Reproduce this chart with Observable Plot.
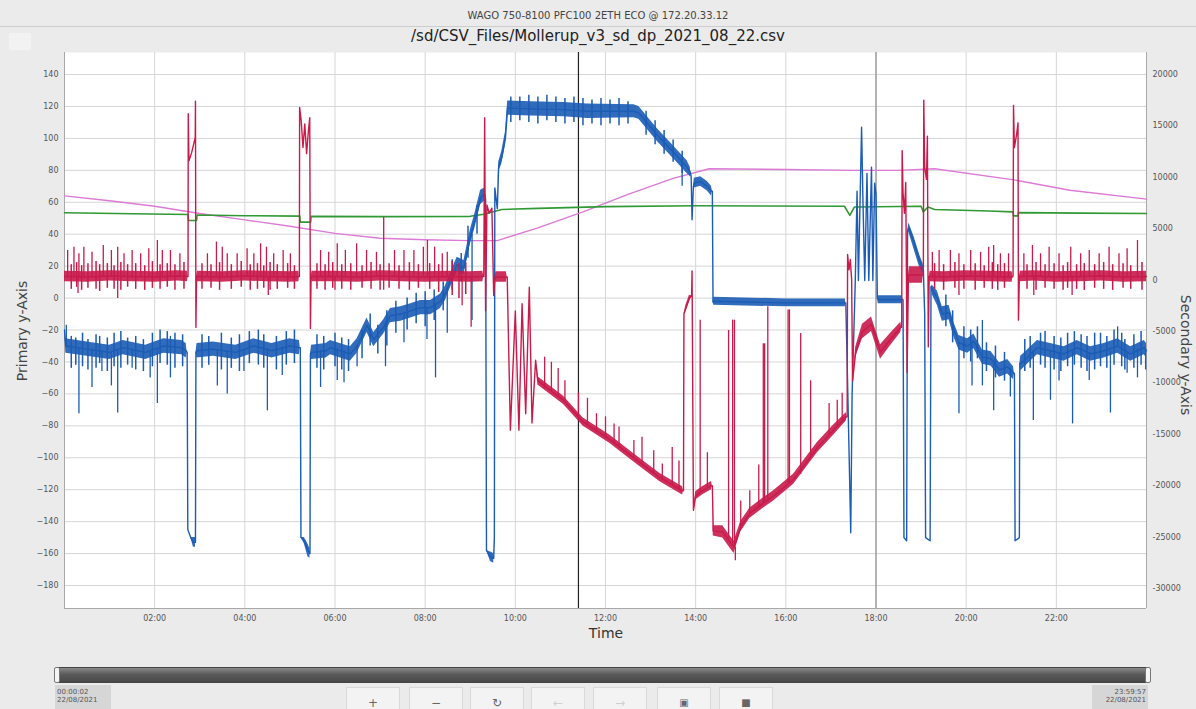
<!DOCTYPE html>
<html><head><meta charset="utf-8">
<script src="https://cdn.jsdelivr.net/npm/d3@7"></script>
<script src="https://cdn.jsdelivr.net/npm/@observablehq/plot@0.6"></script>
<style>
html,body{margin:0;padding:0;}
body{width:1196px;height:709px;overflow:hidden;background:#ebebeb;position:relative;font-family:"DejaVu Sans",sans-serif;}
.abs{position:absolute;white-space:nowrap;}
#chart{position:absolute;left:0;top:0;}
.btn{position:absolute;top:687px;width:54px;height:24px;background:#f3f3f3;border:1px solid #d9d9d9;box-sizing:border-box;text-align:center;font-size:12px;line-height:30px;color:#666;}
.dt{position:absolute;top:685px;height:24px;background:#d6d6d6;font-size:7px;line-height:8px;color:#555;padding:3px 2px;box-sizing:border-box;}
</style></head><body>
<div id="chart"></div>
<div class="abs" style="top:10px;left:0;width:1196px;text-align:center;font-size:10px;color:#444;">WAGO 750-8100 PFC100 2ETH ECO @ 172.20.33.12</div>
<div class="abs" style="top:26px;left:0;width:1196px;height:1px;background:#cdcdcd"></div>
<div class="abs" style="top:27px;left:0;width:1196px;text-align:center;font-size:15px;color:#222;">/sd/CSV_Files/Mollerup_v3_sd_dp_2021_08_22.csv</div>
<div class="abs" style="left:9px;top:33px;width:22px;height:17px;background:#f2f2f2;"></div>
<div class="abs" style="left:22px;top:331px;transform:translate(-50%,-50%) rotate(-90deg);font-size:14px;color:#444;">Primary y-Axis</div>
<div class="abs" style="left:1186px;top:355px;transform:translate(-50%,-50%) rotate(90deg);font-size:14px;color:#444;">Secondary y-Axis</div>
<div class="abs" style="left:606px;top:633px;transform:translate(-50%,-50%);font-size:14px;color:#333;">Time</div>
<div class="abs" style="left:56px;top:667px;width:1092px;height:16px;background:linear-gradient(#8a8a8a,#5a5a5a 45%,#484848);border:1px solid #444;box-sizing:border-box;border-radius:2px;"></div>
<div class="abs" style="left:54px;top:667px;width:6px;height:16px;background:#f4f4f4;border:1px solid #777;box-sizing:border-box;border-radius:2px;"></div>
<div class="abs" style="left:1145px;top:667px;width:6px;height:16px;background:#f4f4f4;border:1px solid #777;box-sizing:border-box;border-radius:2px;"></div>
<div class="dt" style="left:55px;width:56px;">00:00:02<br>22/08/2021</div>
<div class="dt" style="left:1092px;width:56px;text-align:right;">23:59:57<br>22/08/2021</div>
<div class="btn" style="left:346px;">+</div>
<div class="btn" style="left:409px;">&minus;</div>
<div class="btn" style="left:470px;">&#8635;</div>
<div class="btn" style="left:531px;color:#d0d0d0;">&larr;</div>
<div class="btn" style="left:593px;color:#d0d0d0;">&rarr;</div>
<div class="btn" style="left:657px;font-size:10px;">&#9635;</div>
<div class="btn" style="left:719px;font-size:10px;">&#9632;</div>
<script>
// ---- data (time in hours) ----
const timeTicks = [2,4,6,8,10,12,14,16,18,20,22];
const primaryTicks = [-180,-160,-140,-120,-100,-80,-60,-40,-20,0,20,40,60,80,100,120,140];
const secondaryTicks = [-30000,-25000,-20000,-15000,-10000,-5000,0,5000,10000,15000,20000];
const cursorTimes = [11.4];
const markerTimes = [18.0];

// pink (primary axis) [t, value]
const pinkSeries = [[0,64],[1,61],[2,57.5],[3,53],[4,49],[5,45],[6,40.5],[7,37.5],[8,36.5],[9,36],[9.6,36],[10.5,44],[11.5,54],[12.5,65],[13.5,75],[14.3,81],[16,80.5],[17.5,80],[18.5,80],[19.3,81],[21.06,74],[22.3,67.5],[24,62]];

// green (primary axis) [t, value]
const greenSeries = [[0,53.4],[1.5,52.8],[2.74,52.3],[2.75,48.6],[2.93,48.6],[2.94,52],[4,51.6],[5.22,51.3],[5.23,47.6],[5.46,47.6],[5.47,51.2],[7,51],[9.0,51.2],[9.3,52.5],[9.7,55.5],[10.5,56.2],[12,57.3],[14,57.8],[17.3,57.5],[17.42,51.8],[17.52,57],[19.0,57.5],[19.05,54],[19.15,57],[19.3,55.5],[20.5,54.5],[21.04,54],[21.05,51.5],[21.15,51.5],[21.16,53.5],[22.5,53.2],[24,53]];

// red (secondary axis) [t, value, noise half-width]
const redSeries = [[0,350,500],[0.5,300,500],[1.0,400,500],[1.5,350,500],[2.0,300,500],[2.5,400,500],[2.73,350,500],
[2.74,350,0],[2.745,16200,0],[2.76,11600,0],[2.82,12400,0],[2.88,13500,0],[2.9,13900,0],[2.905,17400,0],[2.915,-4600,0],[2.93,350,0],[2.95,350,500],
[3.5,300,500],[4.0,400,500],[4.5,350,500],[5.0,300,500],[5.2,350,500],
[5.21,350,0],[5.215,16800,0],[5.25,15500,0],[5.29,12900,0],[5.33,15200,0],[5.37,12300,0],[5.41,14500,0],[5.44,15800,0],[5.455,-4700,0],[5.47,350,0],[5.49,350,500],
[6.0,350,500],[6.5,300,500],[7.0,400,500],[7.5,350,500],[8.0,300,500],[8.5,350,500],[9.0,300,500],[9.28,350,500],
[9.3,350,0],[9.32,15800,0],[9.34,-3000,0],[9.37,7300,0],[9.42,6500,0],[9.48,7000,0],[9.52,-1500,0],[9.55,300,0],[9.57,300,500],[9.8,300,500],
[9.82,300,0],[9.89,-14600,0],[10.0,-3000,0],[10.08,-14600,0],[10.15,-2300,0],[10.23,-13000,0],[10.31,-700,0],[10.37,-13900,0],[10.45,-7800,0],[10.5,-9800,400],
[11.07,-11700,400],[11.5,-13800,400],[12.1,-15500,400],[12.6,-17200,400],[13.2,-19200,400],[13.71,-20500,400],
[13.73,-20500,0],[13.74,-3300,0],[13.78,-2800,300],[13.86,-1800,300],[13.91,-1500,0],[13.92,900,0],[13.95,-22400,0],[14.0,-21000,400],[14.15,-20500,400],[14.35,-20000,400],
[14.37,-20000,0],[14.39,-24400,500],[14.6,-24500,600],[14.85,-26000,600],[15.0,-24000,500],[15.2,-22700,500],[15.5,-21700,500],[15.73,-21000,500],[16.17,-19400,500],[16.7,-16300,500],[17.06,-14600,500],[17.34,-13300,400],
[17.36,-13300,0],[17.37,2500,0],[17.40,1000,0],[17.43,2000,0],[17.46,0,0],[17.48,-9800,0],[17.55,-7000,500],[17.7,-5000,700],[17.9,-4300,700],[18.1,-7000,700],[18.3,-5900,600],[18.55,-4600,500],
[18.57,-4600,0],[18.58,12600,0],[18.6,8500,0],[18.63,6500,0],[18.66,9500,0],[18.69,-9000,0],[18.72,500,0],[18.74,500,800],[19.03,500,800],
[19.05,500,0],[19.06,17500,0],[19.08,11000,0],[19.12,9800,0],[19.14,14000,0],[19.16,-6500,0],[19.18,350,0],[19.2,350,500],
[19.5,300,500],[20.0,400,500],[20.5,350,500],[21.02,300,500],
[21.04,350,0],[21.05,17000,0],[21.07,12900,0],[21.12,14200,0],[21.15,15300,0],[21.16,-3900,0],[21.18,350,0],[21.2,350,500],
[21.5,400,500],[22.0,300,500],[22.5,350,500],[23.0,400,500],[23.5,300,500],[24.0,350,500]];

// red spikes (secondary axis) [t, base, tip]
const redSpikes = [[0.07,350,2880],[0.21,350,3200],[0.32,350,2560],[0.43,350,3200],[0.61,350,2700],[0.86,350,3370],[1.04,350,2880],[1.18,350,3200],[1.32,350,2560],[1.50,350,2880],[1.69,350,2560],[1.87,350,3050],[2.06,350,3850],[2.17,350,2880],[2.35,350,2880],[2.56,350,2560],
[3.17,350,2560],[3.37,350,3700],[3.50,350,3200],[3.61,350,2560],[3.83,350,2560],[4.05,350,3050],[4.20,350,2560],[4.35,350,3530],[4.48,350,3200],[4.64,350,2560],[4.85,350,2880],[5.01,350,2560],
[5.68,350,2880],[5.86,350,2700],[6.05,350,3530],[6.23,350,2880],[6.48,350,3530],[6.70,350,2880],[6.92,350,2700],[7.08,350,6100],[7.32,350,2880],[7.53,350,2880],[7.75,350,2880],[7.96,350,3200],[8.05,350,3850],[8.21,350,3200],[8.38,350,2560],[8.49,350,2700],
[19.25,350,2700],[19.40,350,2880],[19.65,350,2880],[19.84,350,2560],[20.10,350,2880],[20.32,350,2700],[20.50,350,3200],[20.61,350,3370],[20.76,350,2560],[20.94,350,2560],[21.28,350,2560],[21.47,350,3370],[21.65,350,2560],[21.84,350,3200],[22.06,350,2560],[22.32,350,3200],[22.54,350,2560],[22.73,350,2880],[22.95,350,2560],[23.17,350,3200],[23.39,350,2560],[23.57,350,3050],[23.80,350,3850],
[0.30,350,-1300],[1.18,350,-1800],[4.52,350,-1500],[6.0,350,-1000],[7.08,350,-1000],[8.82,350,-2500],[9.02,350,-4600],[19.84,350,-1500],[21.5,350,-1500],[22.35,350,-1500],
[10.65,-10500,-7500],[10.8,-10800,-8000],[10.95,-11300,-8600],[11.1,-11700,-9800],[11.4,-13300,-11000],[11.6,-14000,-11500],[11.8,-14800,-13000],[12.0,-15200,-13300],[12.19,-15800,-14000],[12.3,-16200,-14300],[12.63,-17300,-15600],[12.81,-17900,-15300],[13.07,-18800,-16600],[13.26,-19400,-17900],[13.48,-19900,-16300],[13.63,-20300,-17600],
[14.1,-20700,-3900],[14.26,-20200,-16800],[14.73,-25200,-4900],[14.82,-25600,-3900],[14.86,-26000,-3900],[14.88,-26000,-27300],[15.0,-24000,-21500],[15.2,-22700,-20500],[15.4,-22200,-18000],[15.5,-21700,-6200],[15.53,-21600,-6200],[15.6,-21500,-2600],[16.05,-19800,-2900],[16.08,-19700,-2900],[16.33,-18900,-5200],[16.55,-17200,-9800],[16.96,-15100,-12000],[17.14,-14200,-11700],[17.25,-13700,-11000]];

// red noise ticks (secondary axis) [t, low, high]
const redFuzz = [[0.15,-900,1500],[0.27,-700,1700],[0.38,-1000,1400],[0.52,-800,1600],[0.7,-900,1800],[0.78,-1100,1500],[0.95,-800,1600],[1.1,-900,1400],[1.25,-1000,1700],[1.4,-700,1500],[1.58,-900,1600],[1.78,-1000,1400],[1.95,-800,1800],[2.12,-900,1500],[2.28,-700,1600],[2.45,-1000,1500],[2.65,-900,1700],
[3.05,-900,1600],[3.25,-800,1500],[3.44,-1000,1700],[3.7,-900,1500],[3.92,-700,1800],[4.12,-1000,1500],[4.28,-900,1600],[4.42,-800,1400],[4.56,-1000,1700],[4.72,-900,1500],[4.95,-800,1600],[5.1,-900,1400],
[5.6,-900,1600],[5.78,-1000,1500],[5.95,-800,1700],[6.15,-900,1500],[6.35,-1000,1600],[6.6,-800,1400],[6.8,-900,1700],[7.0,-1000,1500],[7.2,-800,1600],[7.42,-900,1400],[7.65,-1000,1700],[7.85,-800,1500],[8.1,-900,1600],[8.3,-1200,1500],[8.6,-1500,1800],[8.75,-1800,1600],[8.9,-1400,1700],
[19.3,-900,1600],[19.5,-1000,1500],[19.75,-800,1700],[19.95,-900,1500],[20.2,-1000,1600],[20.4,-800,1400],[20.58,-900,1700],[20.7,-1000,1500],[20.85,-800,1600],[21.35,-900,1500],[21.55,-1000,1700],[21.75,-800,1500],[21.95,-900,1600],[22.15,-1000,1400],[22.25,-800,1700],[22.45,-900,1500],[22.62,-1000,1600],[22.85,-800,1500],[23.05,-900,1700],[23.25,-1000,1500],[23.48,-800,1600],[23.65,-900,1400],[23.9,-1000,1700]];

// blue (primary axis) [t, value, noise half-width]
const blueSeries = [[0,-20,0],[0.03,-30,4.5],[0.5,-32,4.5],[1.0,-34,4.5],[1.3,-31,4.5],[1.8,-34,4.5],[2.2,-30,4.5],[2.6,-31,4.5],[2.70,-33,4.5],
[2.72,-34,0],[2.735,-145,0],[2.80,-150,0],[2.86,-153,3],[2.905,-153,3],[2.915,-34,0],[2.94,-33,4.5],
[3.3,-32,4.5],[3.8,-34,4.5],[4.2,-30,4.5],[4.6,-33,4.5],[5.0,-30,4.5],[5.21,-31,4.5],
[5.23,-31,0],[5.245,-150,0],[5.32,-152,2],[5.40,-158,4],[5.445,-160,3],[5.455,-35,0],[5.48,-34,4.5],
[5.8,-33,4.5],[5.9,-31,4.5],[6.34,-35,4.5],[6.49,-30,4.5],[6.71,-17,4.5],[6.86,-26,4.5],[7.08,-18,4.5],[7.23,-11,4.5],[7.46,-10,4.5],[7.68,-8,4.5],[7.9,-6,4.5],[8.12,-6,4.5],[8.34,-2,4.5],[8.45,3,4.5],[8.53,9,4.5],[8.71,21,4.5],[8.86,19,4.5],[9.0,38,4.5],[9.1,48,4.5],[9.23,63,4.5],[9.32,65,4],
[9.34,62,0],[9.36,-158,0],[9.45,-162,3],[9.52,-163,3],[9.535,-150,0],[9.545,69,0],[9.6,56,0],[9.63,82,3],[9.7,88,4],[9.78,100,4],[9.83,119,4.5],[10.34,118.5,4.5],[11.08,118,4.5],[11.6,117,4.5],[12.63,117,4],[12.74,116,4],[13.15,102,4],[13.52,91,4],[13.81,82,4],[13.88,79,3],
[13.9,76,0],[13.92,49,0],[13.95,70,0],[13.97,72,3],[14.11,73,3],[14.26,70,3],[14.35,67,3],
[14.37,67,0],[14.385,-2.5,0],[14.4,-2,2.5],[16.0,-3,2.5],[17.32,-3,2.5],
[17.33,-3,0],[17.36,-40,0],[17.44,-147,0],[17.47,-60,0],[17.54,10,0],[17.58,67,0],[17.61,11,0],[17.68,107,0],[17.71,62,0],[17.75,11,0],[17.80,78,0],[17.84,11,0],[17.90,82,0],[17.93,11,0],[17.97,72,0],[18.0,65,0],[18.03,0,0],[18.05,-1,2.5],[18.58,-1,2.5],
[18.6,-1,0],[18.62,-150,0],[18.68,-152,0],[18.70,42,0],[18.73,44,3],[18.85,34,4],[18.97,23,4],[19.05,18,3],[19.08,-10,0],
[19.10,-150,0],[19.2,-152,0],[19.22,7,0],[19.25,5,3],[19.36,0,4.5],[19.47,-10,4.5],[19.62,-9,4.5],[19.73,-20,4.5],[19.84,-28,4.5],[20.03,-30,4.5],[20.17,-27,4.5],[20.36,-37,4.5],[20.55,-38,4.5],[20.74,-45,4.5],[20.92,-43,4.5],[21.05,-47,4],
[21.07,-47,0],[21.085,-152,0],[21.18,-150,0],[21.19,-41,0],[21.21,-41,4.5],[21.36,-37,4.5],[21.58,-31,4.5],[21.87,-33,4.5],[22.17,-35,4.5],[22.46,-31,4.5],[22.76,-35,4.5],[23.06,-33,4.5],[23.36,-30,4.5],[23.65,-35,4.5],[23.95,-31,4.5],[24,-33,4.5]];

// blue spikes (primary axis) [t, base, tip]
const blueSpikes = [[0.32,-32,-72.5],[0.61,-32,-56],[0.83,-33,-46],[1.04,-34,-55],[1.18,-33,-72],[1.5,-32,-44],[1.9,-33,-50],[2.06,-32,-66],[2.35,-30,-50],[3.39,-33,-55],[3.61,-33,-60],[3.98,-33,-46],[4.5,-32,-70.6],[4.83,-31,-48.5],[5.68,-33,-56],[6.05,-32,-51.6],[6.2,-33,-53],[6.49,-30,-43],[7.12,-17,-43],[7.53,-10,-28],[8.04,-6,-26],[8.23,-4,-50],[8.49,6,-22],[9.04,40,-14],
[19.84,-28,-72.5],[20.13,-28,-55],[20.36,-37,-55],[20.61,-39,-70.6],[20.98,-44,-62],[21.49,-33,-76.7],[21.87,-33,-64],[22.06,-34,-52],[22.36,-33,-78.8],[22.73,-34,-51.6],[23.2,-33,-72],[23.57,-34,-47],[23.8,-32,-50],[23.98,-32,-45],
[0.04,-30,-17],[2.35,-30,-24],[20.36,-37,-14],[23.36,-30,-18],[13.7,84,70]];

// blue noise ticks (primary axis) [t, low, high]
const blueFuzz = [[0.15,-44,-24],[0.25,-42,-25],[0.4,-43,-22],[0.52,-45,-26],[0.7,-44,-23],[0.78,-41,-24],[0.95,-46,-25],[1.1,-43,-22],[1.25,-44,-21],[1.4,-42,-25],[1.58,-45,-24],[1.75,-46,-26],[1.95,-43,-22],[2.12,-41,-20],[2.28,-42,-21],[2.45,-44,-22],[2.62,-43,-23],
[3.05,-44,-23],[3.2,-42,-24],[3.48,-45,-22],[3.7,-44,-25],[3.88,-46,-23],[4.1,-41,-21],[4.3,-42,-20],[4.42,-44,-23],[4.7,-45,-24],[4.92,-42,-21],[5.1,-41,-20],
[5.6,-44,-23],[5.75,-45,-24],[6.0,-43,-22],[6.15,-45,-25],[6.3,-46,-26],[6.6,-38,-20],[6.78,-30,-10],[6.95,-35,-17],[7.15,-30,-8],[7.35,-22,-2],[7.6,-20,0],[7.8,-16,3],[8.0,-18,4],[8.2,-14,5],[8.4,-8,10],[8.6,5,24],[8.8,10,28],[8.95,25,45],[9.15,40,58],
[19.55,-18,2],[19.7,-28,-8],[19.95,-38,-18],[20.1,-40,-20],[20.25,-38,-18],[20.45,-46,-28],[20.65,-50,-30],[20.85,-52,-34],[21.3,-46,-26],[21.42,-44,-24],[21.65,-42,-22],[21.75,-44,-21],[21.95,-45,-24],[22.1,-46,-25],[22.25,-43,-22],[22.4,-42,-21],[22.55,-44,-23],[22.68,-46,-24],[22.85,-45,-22],[22.98,-43,-22],[23.12,-44,-24],[23.28,-42,-20],[23.45,-43,-22],[23.52,-45,-26],[23.72,-44,-23],[23.88,-42,-21],
[9.9,110,126],[10.1,111,126],[10.3,110,127],[10.5,109,126],[10.7,111,127],[10.9,110,126],[11.1,109,125],[11.3,110,126],[11.5,108,125],[11.7,109,124],[11.9,108,125],[12.1,109,124],[12.3,108,125],[12.5,109,123],[12.9,102,117],[13.1,96,111],[13.3,90,105],[13.5,85,99],[13.7,78,92]];

// ---- secondary axis mapping onto the primary scale ----
const toPrim = s => 11.27 + s / 155.36;
const fromPrim = p => (p - 11.27) * 155.36;

const BLUE = "#1b5cb5", RED = "#c81a4b", GREEN = "#2f9a33", PINK = "#dc7ad6";
const pad2 = h => (h < 10 ? "0" : "") + h + ":00";

const chart = Plot.plot({
  width: 1196, height: 650,
  marginTop: 52, marginBottom: 42, marginLeft: 64, marginRight: 50,
  style: {background: "transparent", fontFamily: "DejaVu Sans", fontSize: "8px"},
  x: {domain: [0, 24]},
  y: {domain: [-194.4, 153.8]},
  marks: [
    Plot.frame({fill: "white", stroke: null}),
    Plot.ruleY(primaryTicks, {stroke: "#d6d6d6"}),
    Plot.ruleX(timeTicks, {stroke: "#d6d6d6"}),
    Plot.ruleX(markerTimes, {stroke: "#7a7a7a"}),
    Plot.ruleX(cursorTimes, {stroke: "#222", strokeWidth: 1.2}),
    Plot.ruleX([0, 24], {stroke: "#a8a8a8"}),
    Plot.ruleY([-194.4], {stroke: "#a8a8a8"}),
    Plot.line(pinkSeries, {x: d => d[0], y: d => d[1], stroke: PINK, strokeWidth: 1.4}),
    Plot.line(greenSeries, {x: d => d[0], y: d => d[1], stroke: GREEN, strokeWidth: 1.6}),
    Plot.areaY(blueSeries, {x: d => d[0], y1: d => d[1] - d[2], y2: d => d[1] + d[2], fill: BLUE, fillOpacity: 0.9}),
    Plot.ruleX(blueFuzz, {x: d => d[0], y1: d => d[1], y2: d => d[2], stroke: BLUE, strokeWidth: 1.5}),
    Plot.ruleX(blueSpikes, {x: d => d[0], y1: d => d[1], y2: d => d[2], stroke: BLUE, strokeWidth: 1.3}),
    Plot.line(blueSeries, {x: d => d[0], y: d => d[1], stroke: BLUE, strokeWidth: 1.4}),
    Plot.areaY(redSeries, {x: d => d[0], y1: d => toPrim(d[1] - d[2]), y2: d => toPrim(d[1] + d[2]), fill: RED, fillOpacity: 0.9}),
    Plot.ruleX(redFuzz, {x: d => d[0], y1: d => toPrim(d[1]), y2: d => toPrim(d[2]), stroke: RED, strokeWidth: 1.5}),
    Plot.ruleX(redSpikes, {x: d => d[0], y1: d => toPrim(d[1]), y2: d => toPrim(d[2]), stroke: RED, strokeWidth: 1.3}),
    Plot.line(redSeries, {x: d => d[0], y: d => toPrim(d[1]), stroke: RED, strokeWidth: 1.4}),
    Plot.axisX(timeTicks, {tickSize: 0, tickPadding: 7, tickFormat: pad2, label: null, fill: "#555"}),
    Plot.axisY(primaryTicks, {anchor: "left", tickSize: 0, tickPadding: 6, label: null, fill: "#555"}),
    Plot.axisY(secondaryTicks.map(toPrim), {anchor: "right", tickSize: 0, tickPadding: 6, label: null, fill: "#555",
      tickFormat: p => String(Math.round(fromPrim(p) / 5000) * 5000)})
  ]
});
document.getElementById("chart").appendChild(chart);
</script>
</body></html>
